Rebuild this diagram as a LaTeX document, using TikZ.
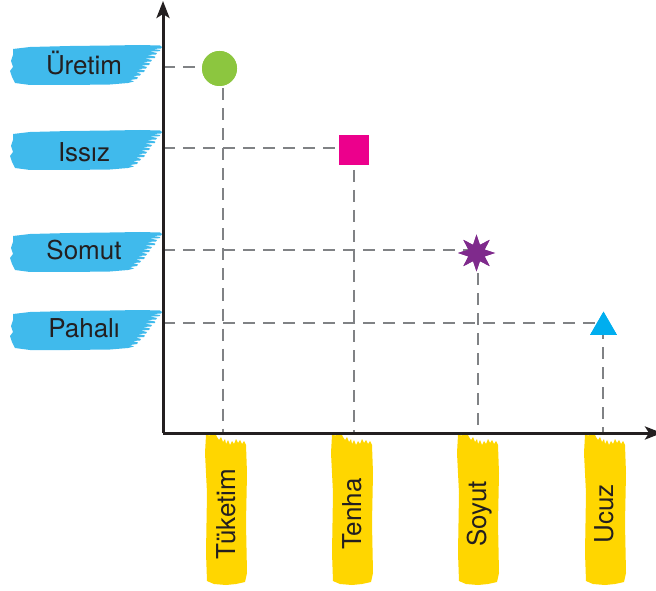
\documentclass[tikz,border=0pt]{standalone}
\usepackage{fontspec}
\setmainfont{TeX Gyre Heros}
\usetikzlibrary{arrows.meta,shapes.geometric}
\definecolor{brushblue}{HTML}{40BAEC}
\definecolor{brushyellow}{HTML}{FFD600}
\definecolor{mgreen}{HTML}{8CC63F}
\definecolor{mmagenta}{HTML}{EC008C}
\definecolor{mpurple}{HTML}{7F2A8C}
\definecolor{mcyan}{HTML}{00AEEF}
\definecolor{dashgray}{HTML}{808285}
\definecolor{inkdark}{HTML}{231F20}
\tikzset{
  bluebrush/.pic={
    \fill[brushblue] (3,16) -- (20,18) -- (60,19) -- (100,19.5) -- (130,20) -- (150,19.5) -- (152,18)
      -- (151,16.5) -- (143,16) -- (150,15) -- (150,13.8) -- (140,13.5) -- (147,12) -- (146,10.5)
      -- (137,10) -- (145,8.5) -- (145,7) -- (135,6.5) -- (142,5) -- (141,3.5) -- (133,3)
      -- (140,1.5) -- (139,0) -- (131,-0.5) -- (137,-2) -- (136,-3.5) -- (128,-4) -- (135,-5.5)
      -- (134,-7) -- (126,-7.5) -- (131,-9) -- (130,-10.5) -- (123,-11) -- (128,-12.5) -- (127,-14)
      -- (120,-15) -- (124,-16.5) -- (118,-18) -- (100,-19.5)
      -- (60,-20) -- (20,-20) -- (5,-18) -- (2,-12) -- (0,-6) -- (3,-2) -- (1,4) -- (3,10) -- cycle;
  },
  yellowbrush/.pic={
    \fill[brushyellow] (-20,-2) -- (-19,0) -- (-17,-3) -- (-15,0) -- (-13,-2) -- (-11,0) -- (-9,-4)
      -- (-7,-7) -- (-5,-4) -- (-3,-9) -- (-1,-6) -- (0,-11) -- (2,-7) -- (4,-12) -- (6,-8)
      -- (8,-11) -- (10,-6) -- (12,-10) -- (14,-7) -- (16,-11) -- (18,-8) -- (20,-12)
      -- (21,-40) -- (20,-90) -- (21,-140) -- (19,-149) -- (10,-151) -- (0,-152) -- (-12,-151)
      -- (-19,-148) -- (-20,-120) -- (-19,-60) -- (-21,-20) -- cycle;
  },
  guide/.style={dashgray, line width=2.8pt, dash pattern=on 12pt off 8pt},
  axisline/.style={inkdark, line width=3pt, -{Stealth[length=17pt,width=13pt,inset=4pt]}},
  ylabel/.style={anchor=base, text=inkdark, font=\fontsize{26}{30}\selectfont, inner sep=0pt},
  xlabel/.style={anchor=base, rotate=90, text=inkdark, font=\fontsize{26}{30}\selectfont, inner sep=0pt},
  marker/.style={inner sep=0pt, outer sep=0pt},
}
\begin{document}
\begin{tikzpicture}[x=1pt,y=1pt]
\useasboundingbox (0,0) rectangle (656,590);
% brushes
\pic at (10,525) {bluebrush};
\pic at (10,440) {bluebrush};
\pic at (10,338) {bluebrush};
\pic at (10,260) {bluebrush};
\pic at (226,157) {yellowbrush};
\pic at (352,157) {yellowbrush};
\pic at (478,157) {yellowbrush};
\pic at (605,157) {yellowbrush};
% axis points
\coordinate (O) at (163,157);
\coordinate (ytop) at (163,589);
\coordinate (xend) at (662,157);
\coordinate (yU) at (163,523);
\coordinate (yI) at (163,442);
\coordinate (yS) at (163,340);
\coordinate (yP) at (163,267);
\coordinate (xT) at (223,157);
\coordinate (xE) at (354,157);
\coordinate (xY) at (478,157);
\coordinate (xC) at (603,157);
% markers
\node[marker, circle, fill=mgreen, minimum size=35pt] (m1) at (219.5,521.5) {};
\node[marker, rectangle, fill=mmagenta, minimum size=30pt] (m2) at (354,440) {};
\node[marker, star, star points=8, star point ratio=2.1, fill=mpurple, minimum size=37pt] (m3) at (476.5,337) {};
\node[marker, regular polygon, regular polygon sides=3, fill=mcyan, minimum size=31pt] (m4) at (603.5,262.8) {};
% dashed guides
\draw[guide] (yU) -- (yU -| m1.center);
\draw[guide] (xT |- m1.center) -- (xT);
\draw[guide] (yI) -- (yI -| m2.center);
\draw[guide] (xE |- m2.center) -- (xE);
\draw[guide] (yS) -- (yS -| m3.center);
\draw[guide] (xY |- m3.center) -- (xY);
\draw[guide] (yP) -- (yP -| m4.center);
\draw[guide] (xC |- m4.center) -- (xC);
% axes
\draw[axisline] (O) -- (ytop);
\draw[axisline] (O) -- (xend);
% redraw markers on top
\node[marker, circle, fill=mgreen, minimum size=35pt] (m1b) at (m1) {};
\node[marker, rectangle, fill=mmagenta, minimum size=30pt] (m2b) at (m2) {};
\node[marker, star, star points=8, star point ratio=2.1, fill=mpurple, minimum size=37pt] (m3b) at (m3) {};
\node[marker, regular polygon, regular polygon sides=3, fill=mcyan, minimum size=31pt] (m4b) at (m4) {};
% labels
\node[ylabel] (lU) at (84,515.7) {Üretim};
\node[ylabel] (lI) at (84,428.3) {Issız};
\node[ylabel] (lS) at (84,330.7) {Somut};
\node[ylabel] (lP) at (84,252.7) {Pahalı};
\node[xlabel] (bT) at (235,76) {Tüketim};
\node[xlabel] (bE) at (361,76) {Tenha};
\node[xlabel] (bY) at (486,76) {Soyut};
\node[xlabel] (bC) at (613,76) {Ucuz};
\end{tikzpicture}
\end{document}
